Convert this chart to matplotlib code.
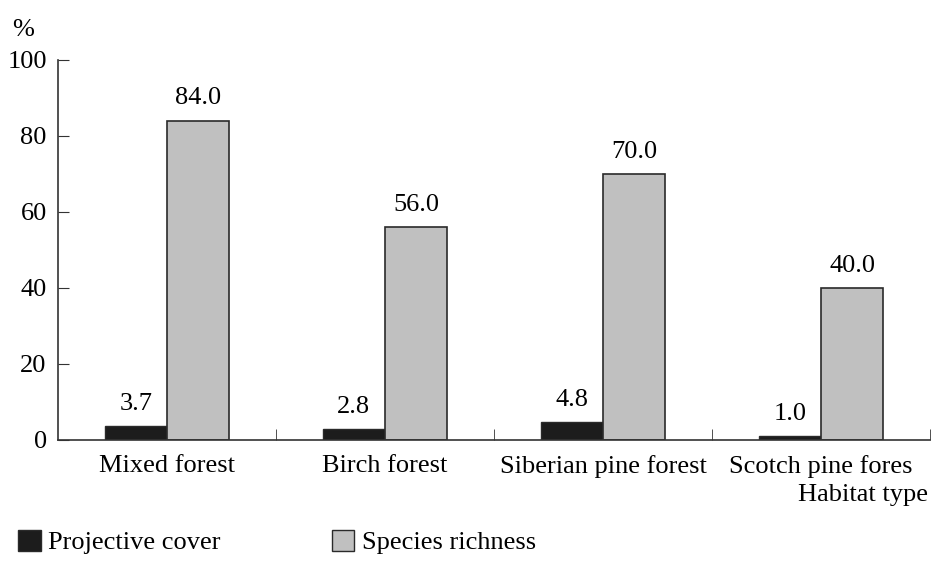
import matplotlib
matplotlib.use("Agg")
import matplotlib.pyplot as plt
import numpy as np
from matplotlib.patches import Patch

# data
habitats = ["Mixed forest", "Birch forest", "Siberian pine forest", "Scotch pine fores"]
projective_cover = [3.7, 2.8, 4.8, 1.0]
species_richness = [84.0, 56.0, 70.0, 40.0]

plt.rcParams['font.family'] = ['Liberation Serif', 'DejaVu Serif']
fs = 19

fig = plt.figure(figsize=(9.33, 5.64), dpi=100)
ax = fig.add_axes([0.062, 0.22, 0.935, 0.674])

x = np.arange(len(habitats))
w = 0.285
dark = "#1c1c1c"
light = "#c0c0c0"
edge = "#2a2a2a"

b1 = ax.bar(x - w / 2, projective_cover, w, color=dark, edgecolor=edge, linewidth=1)
b2 = ax.bar(x + w / 2, species_richness, w, color=light, edgecolor=edge, linewidth=1.2)

for bars, vals in [(b1, projective_cover), (b2, species_richness)]:
    for r, v in zip(bars, vals):
        ax.annotate(f"{v:.1f}", (r.get_x() + r.get_width() / 2, v),
                    xytext=(0, 8), textcoords="offset points",
                    ha="center", va="bottom", fontsize=fs)

ax.set_xlim(-0.5, 3.5)
ax.set_ylim(0, 100)
ax.set_yticks([0, 20, 40, 60, 80, 100])
ax.set_xticks(x)
ax.set_xticklabels(habitats)
ax.set_xticks(np.arange(len(habitats)) + 0.5, minor=True)
ax.tick_params(axis="x", which="major", length=0, labelsize=fs, pad=11)
ax.tick_params(axis="x", which="minor", direction="in", length=8, color="#333333")
ax.tick_params(axis="y", direction="in", length=8, labelsize=fs, color="#333333", pad=8)

for s in ["top", "right"]:
    ax.spines[s].set_visible(False)
for s in ["left", "bottom"]:
    ax.spines[s].set_color("#333333")
    ax.spines[s].set_linewidth(1.2)

fig.text(0.013, 0.947, "%", fontsize=fs, ha="left", va="center")
fig.text(0.995, 0.122, "Habitat type", fontsize=fs, ha="right", va="center")

handles = [Patch(facecolor=dark, edgecolor=edge, label="Projective cover"),
           Patch(facecolor=light, edgecolor=edge, label="Species richness")]
fig.legend(handles=handles, loc="lower left", bbox_to_anchor=(-0.006, -0.025), ncol=2,
           frameon=False, fontsize=fs, handlelength=0.85, handleheight=0.85,
           handletextpad=0.3, columnspacing=4.2)

fig.savefig("out.png", dpi=100)
